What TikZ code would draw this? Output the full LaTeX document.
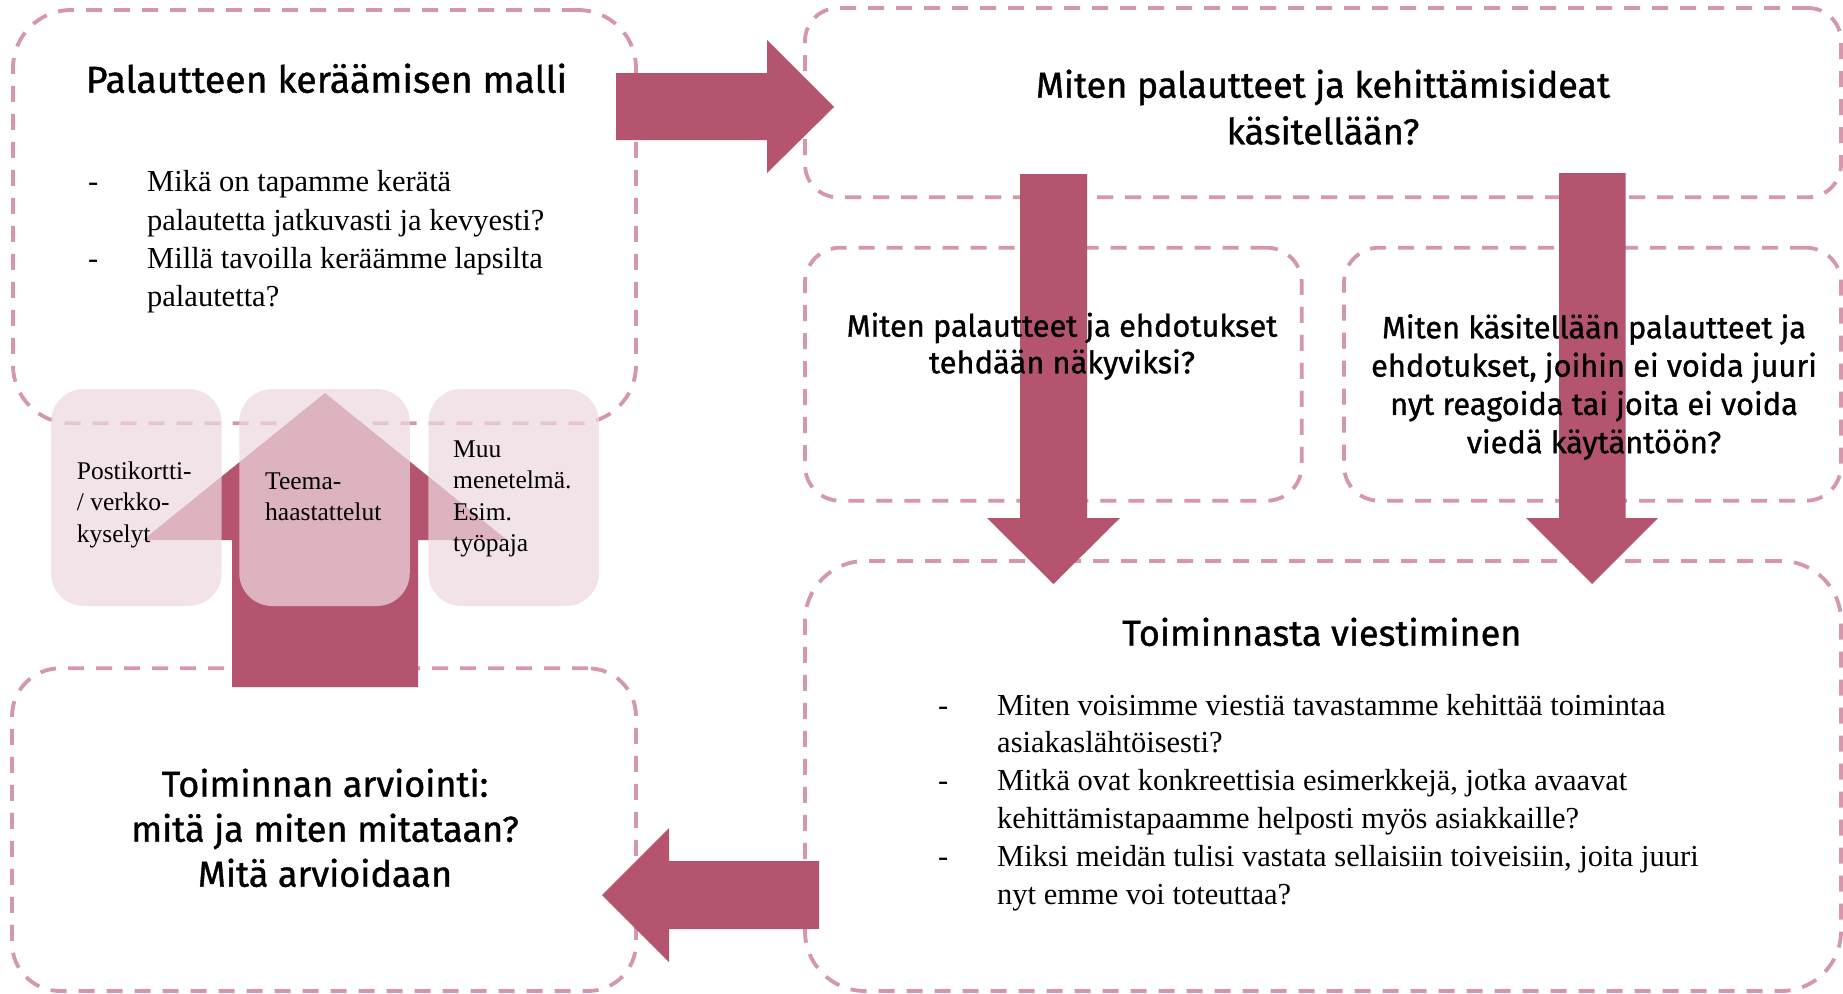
\documentclass[tikz,border=0pt]{standalone}
\usepackage{fontspec}
\setmainfont{Liberation Serif}
\newfontfamily\hfont[FakeBold=1]{Fira Sans}
\definecolor{dashpink}{RGB}{213,151,171}
\definecolor{arrowc}{RGB}{181,84,111}
\definecolor{lightbox}{RGB}{237,217,224}
\newcommand\mybul{\makebox[59pt][l]{-}}
\newcommand\myind{\hspace*{59pt}}
\begin{document}
\begin{tikzpicture}[x=1pt,y=-1pt,
  dbox/.style={draw=dashpink, line width=3.8pt, dash pattern=on 16pt off 12pt, rectangle, inner sep=0pt},
  lbox/.style={fill=lightbox, fill opacity=0.72, rectangle, rounded corners=33pt, inner sep=0pt, minimum width=170.5pt, minimum height=217pt},
  blk/.style={fill=arrowc, draw=none},
  head/.style={font=\hfont\fontsize{36}{45}\selectfont, inner sep=0pt, anchor=base},
  sub/.style={font=\hfont\fontsize{30.8}{38}\selectfont, inner sep=0pt, anchor=base},
  body/.style={font=\fontsize{30.5}{38.3}\selectfont, inner sep=0pt, anchor=base west},
  small/.style={font=\fontsize{25.5}{31.5}\selectfont, inner sep=0pt, anchor=base west}]
\fill[white] (0,0) rectangle (1843,993);
\useasboundingbox (0,0) rectangle (1843,993);

% dashed boxes
\node[dbox, rounded corners=58pt, minimum width=623pt, minimum height=413.3pt] (tl) at (324.5,216.65) {};
\node[dbox, rounded corners=33pt, minimum width=1036pt, minimum height=189.3pt] (tr) at (1323,102.65) {};
\node[dbox, rounded corners=35pt, minimum width=496.7pt, minimum height=253pt] (ml) at (1053.35,374.2) {};
\node[dbox, rounded corners=35pt, minimum width=497pt, minimum height=253pt] (mr) at (1592.5,374.2) {};
\node[dbox, rounded corners=60pt, minimum width=1036pt, minimum height=430pt] (br) at (1323,776) {};
\node[dbox, rounded corners=48pt, minimum width=624pt, minimum height=322.7pt] (bl) at (324,829.65) {};

% block arrows
\fill[blk] (616,73) -- (767,73) -- (767,40) -- (834,107) -- (767,173) -- (767,140) -- (616,140) -- cycle;
\fill[blk] (1020,174) -- (1087,174) -- (1087,518) -- (1120,518) -- (1053.5,584) -- (987,518) -- (1020,518) -- cycle;
\fill[blk] (1559,173) -- (1625.5,173) -- (1625.5,518) -- (1658,518) -- (1592,584) -- (1526,518) -- (1559,518) -- cycle;
\fill[blk] (819,861) -- (669,861) -- (669,828) -- (602,895) -- (669,962) -- (669,929) -- (819,929) -- cycle;
\fill[blk] (232,687) -- (232,540) -- (143,540) -- (325,393) -- (507,540) -- (418,540) -- (418,687) -- cycle;

% translucent method boxes
\node[lbox] (m1) at (136.3,497.5) {};
\node[lbox] (m2) at (324.5,497.5) {};
\node[lbox] (m3) at (513.7,497.5) {};

% texts
\node[head, font=\hfont\fontsize{37.4}{45}\selectfont] (tlh) at (326.5,92.7) {Palautteen keräämisen malli};
\node[body] (tlb) at (88,191.7) {\begin{tabular}[t]{@{}l@{}}\mybul Mikä on tapamme kerätä\\\myind palautetta jatkuvasti ja kevyesti?\\\mybul Millä tavoilla keräämme lapsilta\\\myind palautetta?\end{tabular}};

\node[head, font=\hfont\fontsize{36}{46.6}\selectfont] (trh) at (1323,97.7) {\begin{tabular}[t]{@{}c@{}}Miten palautteet ja kehittämisideat\\käsitellään?\end{tabular}};

\node[sub, font=\hfont\fontsize{30.8}{36.6}\selectfont] (mlt) at (1062,336.7) {\begin{tabular}[t]{@{}c@{}}Miten palautteet ja ehdotukset\\tehdään näkyviksi?\end{tabular}};
\node[sub, font=\hfont\fontsize{30.8}{38.3}\selectfont] (mrt) at (1594,338.3) {\begin{tabular}[t]{@{}c@{}}Miten käsitellään palautteet ja\\ehdotukset, joihin ei voida juuri\\nyt reagoida tai joita ei voida\\viedä käytäntöön?\end{tabular}};

\node[head] (brh) at (1321.8,645.7) {Toiminnasta viestiminen};
\node[body, font=\fontsize{30.5}{37.8}\selectfont] (brb) at (938,715) {\begin{tabular}[t]{@{}l@{}}\mybul Miten voisimme viestiä tavastamme kehittää toimintaa\\\myind asiakaslähtöisesti?\\\mybul Mitkä ovat konkreettisia esimerkkejä, jotka avaavat\\\myind kehittämistapaamme helposti myös asiakkaille?\\\mybul Miksi meidän tulisi vastata sellaisiin toiveisiin, joita juuri\\\myind nyt emme voi toteuttaa?\end{tabular}};

\node[head] (blh) at (325,796.7) {\begin{tabular}[t]{@{}c@{}}Toiminnan arviointi:\\mitä ja miten mitataan?\\Mitä arvioidaan\end{tabular}};

\node[small] (s1) at (76.7,479) {\begin{tabular}[t]{@{}l@{}}Postikortti-\\/ verkko-\\kyselyt\end{tabular}};
\node[small] (s2) at (265,489) {\begin{tabular}[t]{@{}l@{}}Teema-\\haastattelut\end{tabular}};
\node[small] (s3) at (453,457.3) {\begin{tabular}[t]{@{}l@{}}Muu\\menetelmä.\\Esim.\\työpaja\end{tabular}};
\end{tikzpicture}
\end{document}
